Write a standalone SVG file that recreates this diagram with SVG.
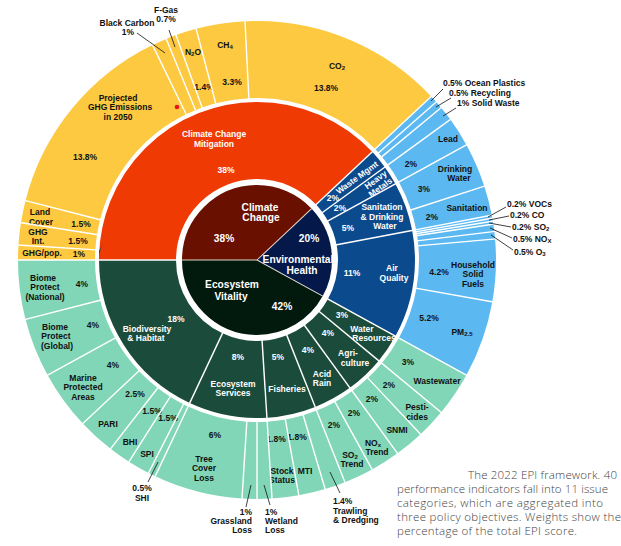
<svg xmlns="http://www.w3.org/2000/svg" width="621" height="546" viewBox="0 0 621 546">
<style>
.lb{font-family:"Liberation Sans",Arial,sans-serif;font-weight:bold;font-size:8.5px;fill:#111;text-anchor:middle}
.w{fill:#fff}
.st{text-anchor:start}
.en{text-anchor:end}
.ct{font-size:10.2px}
.o{fill:none;stroke-width:77}
.m{fill:none;stroke-width:77}
.c{fill:none;stroke-width:75}
.cy{stroke:#FDC940}.cr{stroke:#F03A04}.cd{stroke:#6A1000}
.hb{stroke:#5CB8F0}.hm{stroke:#0C4A8E}.hd{stroke:#05184A}
.vg{stroke:#80D6B7}.vm{stroke:#1B4B3B}.vd{stroke:#021A0D}
.sep line{stroke:#fff;stroke-width:1.4}
.sepc line{stroke:#ddd6cc;stroke-width:1}
.ld line{stroke:#111;stroke-width:0.8}
.cap{font-family:"Open Sans","Liberation Sans",sans-serif;font-weight:300;font-size:11.5px;fill:#444}
</style>
<rect width="621" height="546" fill="#fff"/>

<!-- center -->
<g id="climate-change"><circle class="c cd" cx="257" cy="260" r="37.5" pathLength="100" stroke-dasharray="38 62" stroke-dashoffset="-50"/>
<text class="lb w ct" x="260" y="210.5">Climate</text><text class="lb w ct" x="261" y="221">Change</text><text class="lb w ct" x="224" y="242">38%</text></g>
<g id="environmental-health"><circle class="c hd" cx="257" cy="260" r="37.5" pathLength="100" stroke-dasharray="20 80" stroke-dashoffset="-88"/>
<text class="lb w ct" x="309" y="242">20%</text><text class="lb w ct" x="298" y="263">Environmental</text><text class="lb w ct" x="302" y="274">Health</text></g>
<g id="ecosystem-vitality"><circle class="c vd" cx="257" cy="260" r="37.5" pathLength="100" stroke-dasharray="42 58" stroke-dashoffset="-8"/>
<text class="lb w ct" x="232" y="288">Ecosystem</text><text class="lb w ct" x="231" y="300">Vitality</text><text class="lb w ct" x="282" y="310">42%</text></g>

<!-- middle ring -->
<g id="climate-change-mitigation"><circle class="m cr" cx="257" cy="260" r="119.5" pathLength="100" stroke-dasharray="38 62" stroke-dashoffset="-50"/>
<text class="lb w" x="214" y="137">Climate Change</text><text class="lb w" x="214" y="147">Mitigation</text><text class="lb w" x="226" y="173">38%</text></g>
<g id="waste-mgmt"><circle class="m hm" cx="257" cy="260" r="119.5" pathLength="100" stroke-dasharray="2 98" stroke-dashoffset="-88"/>
<text class="lb w" x="333" y="201">2%</text><text class="lb w" transform="translate(357 177.5) rotate(-36)" x="0" y="3">Waste Mgmt</text></g>
<g id="heavy-metals"><circle class="m hm" cx="257" cy="260" r="119.5" pathLength="100" stroke-dasharray="2 98" stroke-dashoffset="-90"/>
<text class="lb w" x="340" y="211">2%</text><text class="lb w" transform="translate(375.6 179.7) rotate(-36)" x="0" y="3">Heavy</text><text class="lb w" transform="translate(380.3 187.3) rotate(-36)" x="0" y="3">Metals</text></g>
<g id="sanitation-drinking-water"><circle class="m hm" cx="257" cy="260" r="119.5" pathLength="100" stroke-dasharray="5 95" stroke-dashoffset="-92"/>
<text class="lb w" x="382" y="210">Sanitation</text><text class="lb w" x="382" y="220">&amp; Drinking</text><text class="lb w" x="385" y="229">Water</text><text class="lb w" x="348" y="231">5%</text></g>
<g id="air-quality"><circle class="m hm" cx="257" cy="260" r="119.5" pathLength="100" stroke-dasharray="11 89" stroke-dashoffset="-97"/>
<text class="lb w" x="352" y="276">11%</text><text class="lb w" x="392" y="271">Air</text><text class="lb w" x="394" y="281">Quality</text></g>
<g id="water-resources"><circle class="m vm" cx="257" cy="260" r="119.5" pathLength="100" stroke-dasharray="3 97" stroke-dashoffset="-8"/>
<text class="lb w" x="342" y="318">3%</text><text class="lb w" x="362" y="332">Water</text><text class="lb w" x="374" y="341">Resources</text></g>
<g id="agriculture"><circle class="m vm" cx="257" cy="260" r="119.5" pathLength="100" stroke-dasharray="4 96" stroke-dashoffset="-11"/>
<text class="lb w" x="328" y="336">4%</text><text class="lb w" x="348" y="356">Agri-</text><text class="lb w" x="355" y="365.5">culture</text></g>
<g id="acid-rain"><circle class="m vm" cx="257" cy="260" r="119.5" pathLength="100" stroke-dasharray="4 96" stroke-dashoffset="-15"/>
<text class="lb w" x="308" y="353">4%</text><text class="lb w" x="322" y="377">Acid</text><text class="lb w" x="322" y="386">Rain</text></g>
<g id="fisheries"><circle class="m vm" cx="257" cy="260" r="119.5" pathLength="100" stroke-dasharray="5 95" stroke-dashoffset="-19"/>
<text class="lb w" x="278" y="360">5%</text><text class="lb w" x="287" y="392">Fisheries</text></g>
<g id="ecosystem-services"><circle class="m vm" cx="257" cy="260" r="119.5" pathLength="100" stroke-dasharray="8 92" stroke-dashoffset="-24"/>
<text class="lb w" x="238" y="360">8%</text><text class="lb w" x="233" y="387">Ecosystem</text><text class="lb w" x="233" y="396">Services</text></g>
<g id="biodiversity-habitat"><circle class="m vm" cx="257" cy="260" r="119.5" pathLength="100" stroke-dasharray="18 82" stroke-dashoffset="-32"/>
<text class="lb w" x="176" y="322">18%</text><text class="lb w" x="147" y="332">Biodiversity</text><text class="lb w" x="146" y="341">&amp; Habitat</text></g>

<!-- outer ring: climate -->
<g id="ghg-pop"><circle class="o cy" cx="257" cy="260" r="200.5" pathLength="100" stroke-dasharray="1 99" stroke-dashoffset="-50"/>
<text class="lb" x="42" y="256">GHG/pop.</text><text class="lb" x="79" y="257">1%</text></g>
<g id="ghg-int"><circle class="o cy" cx="257" cy="260" r="200.5" pathLength="100" stroke-dasharray="1.5 98.5" stroke-dashoffset="-51"/>
<text class="lb" x="38" y="235">GHG</text><text class="lb" x="38" y="244">Int.</text><text class="lb" x="78" y="244">1.5%</text></g>
<g id="land-cover"><circle class="o cy" cx="257" cy="260" r="200.5" pathLength="100" stroke-dasharray="1.5 98.5" stroke-dashoffset="-52.5"/>
<text class="lb" x="40" y="215">Land</text><text class="lb" x="41" y="225">Cover</text><text class="lb" x="81" y="227">1.5%</text></g>
<g id="projected-ghg"><circle class="o cy" cx="257" cy="260" r="200.5" pathLength="100" stroke-dasharray="13.8 86.2" stroke-dashoffset="-54"/>
<text class="lb" x="118" y="101">Projected</text><text class="lb" x="120" y="110">GHG Emissions</text><text class="lb" x="118" y="120">in 2050</text><text class="lb" x="85" y="160">13.8%</text>
<circle cx="177" cy="107" r="2.3" fill="#E8141C"/></g>
<g id="black-carbon"><circle class="o cy" cx="257" cy="260" r="200.5" pathLength="100" stroke-dasharray="1 99" stroke-dashoffset="-67.8"/>
<text class="lb" x="127" y="26">Black Carbon</text><text class="lb" x="128" y="35">1%</text></g>
<g id="f-gas"><circle class="o cy" cx="257" cy="260" r="200.5" pathLength="100" stroke-dasharray="0.7 99.3" stroke-dashoffset="-68.8"/>
<text class="lb" x="166" y="13">F-Gas</text><text class="lb" x="166" y="22">0.7%</text></g>
<g id="n2o"><circle class="o cy" cx="257" cy="260" r="200.5" pathLength="100" stroke-dasharray="1.4 98.6" stroke-dashoffset="-69.5"/>
<text class="lb" x="193" y="55">N<tspan font-size="6" dy="1">2</tspan><tspan dy="-1">O</tspan></text><text class="lb" x="204" y="90">1.4%</text></g>
<g id="ch4"><circle class="o cy" cx="257" cy="260" r="200.5" pathLength="100" stroke-dasharray="3.3 96.7" stroke-dashoffset="-70.9"/>
<text class="lb" x="225" y="48">CH<tspan font-size="6" dy="1">4</tspan></text><text class="lb" x="232" y="85">3.3%</text></g>
<g id="co2"><circle class="o cy" cx="257" cy="260" r="200.5" pathLength="100" stroke-dasharray="13.8 86.2" stroke-dashoffset="-74.2"/>
<text class="lb" x="337" y="69">CO<tspan font-size="6" dy="1">2</tspan></text><text class="lb" x="326" y="91">13.8%</text></g>

<!-- outer ring: environmental health -->
<g id="ocean-plastics"><circle class="o hb" cx="257" cy="260" r="200.5" pathLength="100" stroke-dasharray="0.5 99.5" stroke-dashoffset="-88"/>
<text class="lb st" x="443" y="86">0.5% Ocean Plastics</text></g>
<g id="recycling"><circle class="o hb" cx="257" cy="260" r="200.5" pathLength="100" stroke-dasharray="0.5 99.5" stroke-dashoffset="-88.5"/>
<text class="lb st" x="449" y="96">0.5% Recycling</text></g>
<g id="solid-waste"><circle class="o hb" cx="257" cy="260" r="200.5" pathLength="100" stroke-dasharray="1 99" stroke-dashoffset="-89"/>
<text class="lb st" x="457" y="106">1% Solid Waste</text></g>
<g id="lead"><circle class="o hb" cx="257" cy="260" r="200.5" pathLength="100" stroke-dasharray="2 98" stroke-dashoffset="-90"/>
<text class="lb" x="448" y="142">Lead</text><text class="lb" x="411" y="167">2%</text></g>
<g id="drinking-water"><circle class="o hb" cx="257" cy="260" r="200.5" pathLength="100" stroke-dasharray="3 97" stroke-dashoffset="-92"/>
<text class="lb" x="455" y="172">Drinking</text><text class="lb" x="459" y="181">Water</text><text class="lb" x="424" y="192">3%</text></g>
<g id="sanitation"><circle class="o hb" cx="257" cy="260" r="200.5" pathLength="100" stroke-dasharray="2 98" stroke-dashoffset="-95"/>
<text class="lb" x="467" y="211">Sanitation</text><text class="lb" x="432" y="220">2%</text></g>
<g id="vocs"><circle class="o hb" cx="257" cy="260" r="200.5" pathLength="100" stroke-dasharray="0.2 99.8" stroke-dashoffset="-97"/>
<text class="lb st" x="507" y="207">0.2% VOCs</text></g>
<g id="co"><circle class="o hb" cx="257" cy="260" r="200.5" pathLength="100" stroke-dasharray="0.2 99.8" stroke-dashoffset="-97.2"/>
<text class="lb st" x="510" y="218">0.2% CO</text></g>
<g id="so2"><circle class="o hb" cx="257" cy="260" r="200.5" pathLength="100" stroke-dasharray="0.2 99.8" stroke-dashoffset="-97.4"/>
<text class="lb st" x="512" y="230">0.2% SO<tspan font-size="6" dy="1">2</tspan></text></g>
<g id="nox"><circle class="o hb" cx="257" cy="260" r="200.5" pathLength="100" stroke-dasharray="0.5 99.5" stroke-dashoffset="-97.6"/>
<text class="lb st" x="513" y="242">0.5% NO<tspan font-size="6" dy="1">X</tspan></text></g>
<g id="o3"><circle class="o hb" cx="257" cy="260" r="200.5" pathLength="100" stroke-dasharray="0.5 99.5" stroke-dashoffset="-98.1"/>
<text class="lb st" x="514" y="255">0.5% O<tspan font-size="6" dy="1">3</tspan></text></g>
<g id="household-solid-fuels"><circle class="o hb" cx="257" cy="260" r="200.5" pathLength="100" stroke-dasharray="4.2 95.8" stroke-dashoffset="-98.6"/>
<text class="lb" x="439" y="275">4.2%</text><text class="lb" x="473" y="268">Household</text><text class="lb" x="473" y="277">Solid</text><text class="lb" x="473" y="287">Fuels</text></g>
<g id="pm25"><circle class="o hb" cx="257" cy="260" r="200.5" pathLength="100" stroke-dasharray="5.2 94.8" stroke-dashoffset="-2.8"/>
<text class="lb" x="429" y="321">5.2%</text><text class="lb" x="462" y="335">PM<tspan font-size="6" dy="1">2.5</tspan></text></g>

<!-- outer ring: ecosystem vitality -->
<g id="wastewater"><circle class="o vg" cx="257" cy="260" r="200.5" pathLength="100" stroke-dasharray="3 97" stroke-dashoffset="-8"/>
<text class="lb" x="408" y="365">3%</text><text class="lb" x="437" y="384">Wastewater</text></g>
<g id="pesticides"><circle class="o vg" cx="257" cy="260" r="200.5" pathLength="100" stroke-dasharray="2 98" stroke-dashoffset="-11"/>
<text class="lb" x="389" y="388">2%</text><text class="lb" x="417" y="410">Pesti-</text><text class="lb" x="417" y="420">cides</text></g>
<g id="snmi"><circle class="o vg" cx="257" cy="260" r="200.5" pathLength="100" stroke-dasharray="2 98" stroke-dashoffset="-13"/>
<text class="lb" x="372" y="402">2%</text><text class="lb" x="397" y="433">SNMI</text></g>
<g id="nox-trend"><circle class="o vg" cx="257" cy="260" r="200.5" pathLength="100" stroke-dasharray="2 98" stroke-dashoffset="-15"/>
<text class="lb" x="354" y="416">2%</text><text class="lb" x="373" y="446">NO<tspan font-size="6" dy="1">x</tspan></text><text class="lb" x="377" y="455">Trend</text></g>
<g id="so2-trend"><circle class="o vg" cx="257" cy="260" r="200.5" pathLength="100" stroke-dasharray="2 98" stroke-dashoffset="-17"/>
<text class="lb" x="334" y="428">2%</text><text class="lb" x="350" y="458">SO<tspan font-size="6" dy="1">2</tspan></text><text class="lb" x="352" y="467">Trend</text></g>
<g id="trawling"><circle class="o vg" cx="257" cy="260" r="200.5" pathLength="100" stroke-dasharray="1.4 98.6" stroke-dashoffset="-19"/>
<text class="lb st" x="333" y="503.5">1.4%</text><text class="lb st" x="333" y="513.5">Trawling</text><text class="lb st" x="333" y="522.5">&amp; Dredging</text></g>
<g id="mti"><circle class="o vg" cx="257" cy="260" r="200.5" pathLength="100" stroke-dasharray="1.8 98.2" stroke-dashoffset="-20.4"/>
<text class="lb" x="297" y="440">1.8%</text><text class="lb" x="305" y="474">MTI</text></g>
<g id="stock-status"><circle class="o vg" cx="257" cy="260" r="200.5" pathLength="100" stroke-dasharray="1.8 98.2" stroke-dashoffset="-22.2"/>
<text class="lb" x="276" y="442">1.8%</text><text class="lb" x="282" y="474">Stock</text><text class="lb" x="282" y="483">Status</text></g>
<g id="wetland-loss"><circle class="o vg" cx="257" cy="260" r="200.5" pathLength="100" stroke-dasharray="1 99" stroke-dashoffset="-24"/>
<text class="lb st" x="265" y="515">1%</text><text class="lb st" x="265" y="524">Wetland</text><text class="lb st" x="265" y="533">Loss</text></g>
<g id="grassland-loss"><circle class="o vg" cx="257" cy="260" r="200.5" pathLength="100" stroke-dasharray="1 99" stroke-dashoffset="-25"/>
<text class="lb en" x="252" y="515">1%</text><text class="lb en" x="252" y="524">Grassland</text><text class="lb en" x="252" y="533">Loss</text></g>
<g id="tree-cover-loss"><circle class="o vg" cx="257" cy="260" r="200.5" pathLength="100" stroke-dasharray="6 94" stroke-dashoffset="-26"/>
<text class="lb" x="215" y="438">6%</text><text class="lb" x="204" y="462">Tree</text><text class="lb" x="204" y="471">Cover</text><text class="lb" x="204" y="481">Loss</text></g>
<g id="shi"><circle class="o vg" cx="257" cy="260" r="200.5" pathLength="100" stroke-dasharray="0.5 99.5" stroke-dashoffset="-32"/>
<text class="lb" x="142" y="491">0.5%</text><text class="lb" x="142" y="501">SHI</text></g>
<g id="spi"><circle class="o vg" cx="257" cy="260" r="200.5" pathLength="100" stroke-dasharray="1.5 98.5" stroke-dashoffset="-32.5"/>
<text class="lb" x="168" y="421">1.5%</text><text class="lb" x="147" y="457">SPI</text></g>
<g id="bhi"><circle class="o vg" cx="257" cy="260" r="200.5" pathLength="100" stroke-dasharray="1.5 98.5" stroke-dashoffset="-34"/>
<text class="lb" x="152" y="414">1.5%</text><text class="lb" x="130" y="445">BHI</text></g>
<g id="pari"><circle class="o vg" cx="257" cy="260" r="200.5" pathLength="100" stroke-dasharray="2.5 97.5" stroke-dashoffset="-35.5"/>
<text class="lb" x="135" y="397">2.5%</text><text class="lb" x="108" y="427">PARI</text></g>
<g id="marine-protected-areas"><circle class="o vg" cx="257" cy="260" r="200.5" pathLength="100" stroke-dasharray="4 96" stroke-dashoffset="-38"/>
<text class="lb" x="113" y="368">4%</text><text class="lb" x="83" y="381">Marine</text><text class="lb" x="83" y="390">Protected</text><text class="lb" x="83" y="400">Areas</text></g>
<g id="biome-protect-global"><circle class="o vg" cx="257" cy="260" r="200.5" pathLength="100" stroke-dasharray="4 96" stroke-dashoffset="-42"/>
<text class="lb" x="93" y="328">4%</text><text class="lb" x="55" y="330">Biome</text><text class="lb" x="56" y="339">Protect</text><text class="lb" x="57" y="349">(Global)</text></g>
<g id="biome-protect-national"><circle class="o vg" cx="257" cy="260" r="200.5" pathLength="100" stroke-dasharray="4 96" stroke-dashoffset="-46"/>
<text class="lb" x="82" y="287">4%</text><text class="lb" x="43" y="281">Biome</text><text class="lb" x="45" y="290">Protect</text><text class="lb" x="45" y="300">(National)</text></g>

<!-- separators -->
<g class="sepc" transform="translate(257 260)">
<line x1="0" x2="75" transform="rotate(180)"/><line x1="0" x2="75" transform="rotate(316.8)"/><line x1="0" x2="75" transform="rotate(28.8)"/>
</g>
<g class="sep" transform="translate(257 260)">
<line x1="80" x2="159" transform="rotate(180)"/><line x1="80" x2="159" transform="rotate(316.8)"/><line x1="80" x2="159" transform="rotate(324)"/><line x1="80" x2="159" transform="rotate(331.2)"/><line x1="80" x2="159" transform="rotate(349.2)"/><line x1="80" x2="159" transform="rotate(28.8)"/><line x1="80" x2="159" transform="rotate(39.6)"/><line x1="80" x2="159" transform="rotate(54)"/><line x1="80" x2="159" transform="rotate(68.4)"/><line x1="80" x2="159" transform="rotate(86.4)"/><line x1="80" x2="159" transform="rotate(115.2)"/>
<line x1="161" x2="240" transform="rotate(180)"/><line x1="161" x2="240" transform="rotate(183.6)"/><line x1="161" x2="240" transform="rotate(189)"/><line x1="161" x2="240" transform="rotate(194.4)"/><line x1="161" x2="240" transform="rotate(244.08)"/><line x1="161" x2="240" transform="rotate(247.68)"/><line x1="161" x2="240" transform="rotate(250.2)"/><line x1="161" x2="240" transform="rotate(255.24)"/><line x1="161" x2="240" transform="rotate(267.12)"/><line x1="161" x2="240" transform="rotate(316.8)"/><line x1="161" x2="240" transform="rotate(318.6)"/><line x1="161" x2="240" transform="rotate(320.4)"/><line x1="161" x2="240" transform="rotate(324)"/><line x1="161" x2="240" transform="rotate(331.2)"/><line x1="161" x2="240" transform="rotate(342)"/><line x1="161" x2="240" transform="rotate(349.2)"/><line x1="161" x2="240" transform="rotate(349.92)"/><line x1="161" x2="240" transform="rotate(350.64)"/><line x1="161" x2="240" transform="rotate(351.36)"/><line x1="161" x2="240" transform="rotate(353.16)"/><line x1="161" x2="240" transform="rotate(354.96)"/><line x1="161" x2="240" transform="rotate(10.08)"/><line x1="161" x2="240" transform="rotate(28.8)"/><line x1="161" x2="240" transform="rotate(39.6)"/><line x1="161" x2="240" transform="rotate(46.8)"/><line x1="161" x2="240" transform="rotate(54)"/><line x1="161" x2="240" transform="rotate(61.2)"/><line x1="161" x2="240" transform="rotate(68.4)"/><line x1="161" x2="240" transform="rotate(73.44)"/><line x1="161" x2="240" transform="rotate(79.92)"/><line x1="161" x2="240" transform="rotate(86.4)"/><line x1="161" x2="240" transform="rotate(90)"/><line x1="161" x2="240" transform="rotate(93.6)"/><line x1="161" x2="240" transform="rotate(115.2)"/><line x1="161" x2="240" transform="rotate(117)"/><line x1="161" x2="240" transform="rotate(122.4)"/><line x1="161" x2="240" transform="rotate(127.8)"/><line x1="161" x2="240" transform="rotate(136.8)"/><line x1="161" x2="240" transform="rotate(151.2)"/><line x1="161" x2="240" transform="rotate(165.6)"/>
</g>

<!-- connectors (leader lines) -->
<g id="connectors" class="ld">
<line x1="137" y1="33" x2="165" y2="53"/>
<line x1="169" y1="30" x2="175" y2="47"/>
<line x1="443" y1="89" x2="431" y2="101"/>
<line x1="451" y1="98" x2="436" y2="107"/>
<line x1="456" y1="108" x2="443" y2="116"/>
<line x1="506" y1="207" x2="488" y2="217"/>
<line x1="509" y1="216" x2="489" y2="220"/>
<line x1="511" y1="227" x2="489" y2="223"/>
<line x1="512" y1="238" x2="490" y2="228"/>
<line x1="513" y1="250" x2="491" y2="235"/>
<line x1="148" y1="482" x2="158" y2="462"/>
<line x1="246" y1="507" x2="251" y2="485"/>
<line x1="270" y1="505" x2="264" y2="485"/>
<line x1="340" y1="493" x2="330" y2="472"/>
</g>

<g id="caption" class="cap">
<text x="468" y="479" textLength="149" lengthAdjust="spacing">The 2022 EPI framework. 40</text>
<text x="397" y="493" textLength="211" lengthAdjust="spacing">performance indicators fall into 11 issue</text>
<text x="397" y="507" textLength="206" lengthAdjust="spacing">categories, which are aggregated into</text>
<text x="397" y="521" textLength="224" lengthAdjust="spacing">three policy objectives. Weights show the</text>
<text x="397" y="535" textLength="180" lengthAdjust="spacing">percentage of the total EPI score.</text>
</g>
</svg>
